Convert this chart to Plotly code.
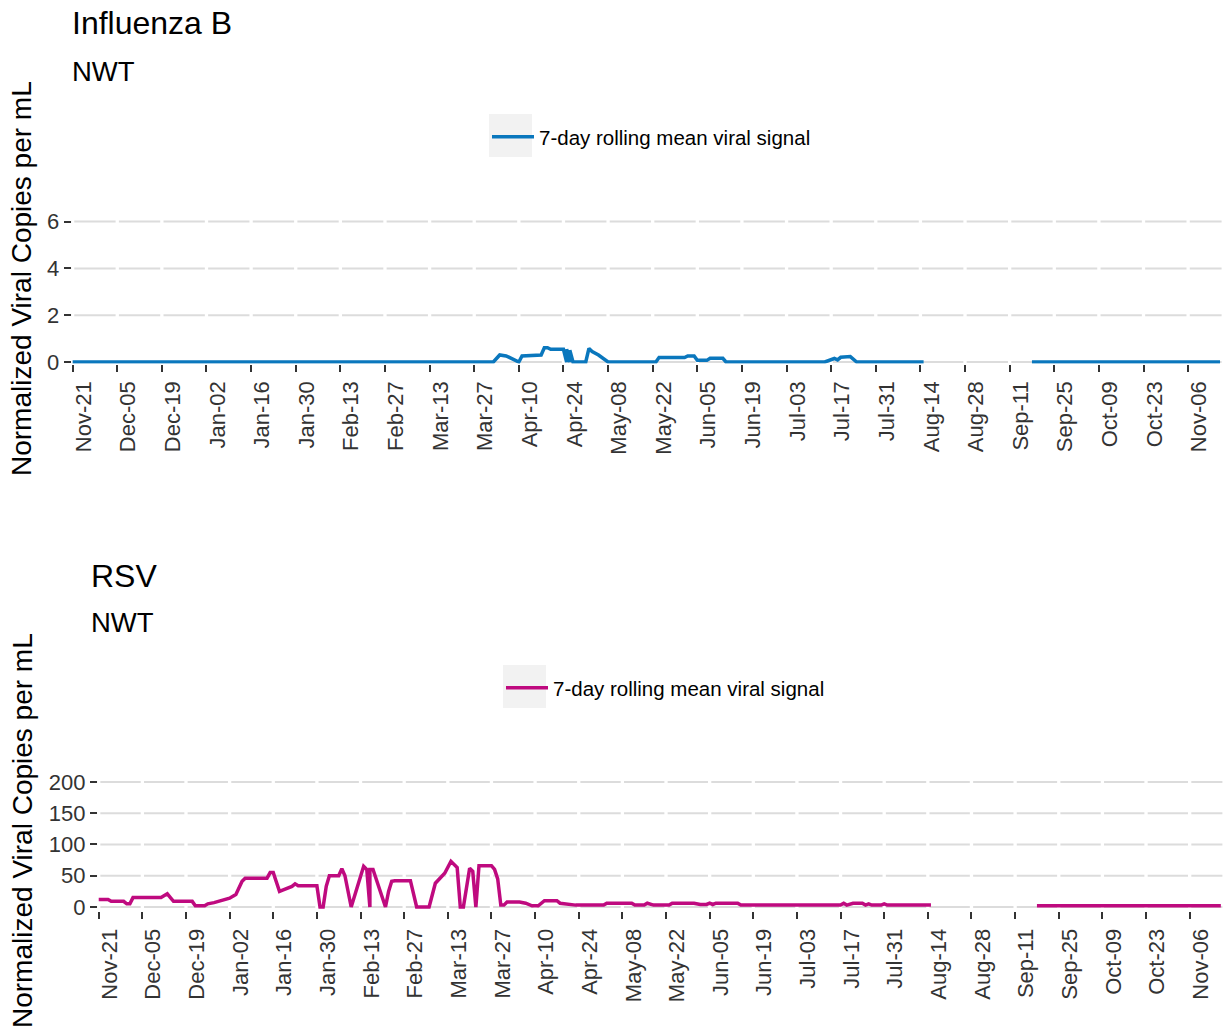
import pandas as pd
import plotly.graph_objects as go

# ---------------- data ----------------
flu_dates = [
    "2022-11-21", "2023-04-02", "2023-04-04", "2023-04-06", "2023-04-07", "2023-04-09",
    "2023-04-10", "2023-04-11", "2023-04-17", "2023-04-18", "2023-04-19", "2023-04-20",
    "2023-04-24", "2023-04-25", "2023-04-25", "2023-04-26", "2023-04-26", "2023-04-27",
    "2023-05-01", "2023-05-02", "2023-05-03", "2023-05-05", "2023-05-06", "2023-05-07",
    "2023-05-08", "2023-05-23", "2023-05-24", "2023-06-01", "2023-06-02", "2023-06-04",
    "2023-06-05", "2023-06-08", "2023-06-09", "2023-06-13", "2023-06-14", "2023-07-15",
    "2023-07-17", "2023-07-18", "2023-07-19", "2023-07-20", "2023-07-23", "2023-07-24",
    "2023-07-25", "2023-08-15", "2023-08-16", "2023-09-18", "2023-11-16",
]
flu_values = [
    0, 0, 0.30, 0.26, 0.20, 0.04,
    0, 0.26, 0.30, 0.61, 0.61, 0.54,
    0.54, 0, 0.55, 0, 0.50, 0,
    0, 0.58, 0.45, 0.30, 0.20, 0.12,
    0, 0, 0.19, 0.19, 0.26, 0.26,
    0.07, 0.07, 0.16, 0.16, 0, 0,
    0.11, 0.15, 0.09, 0.20, 0.23, 0.10,
    0, 0, None, 0, 0,
]

rsv_dates = [
    "2022-11-21", "2022-11-24", "2022-11-25", "2022-11-29", "2022-11-30", "2022-12-01",
    "2022-12-02", "2022-12-11", "2022-12-13", "2022-12-15", "2022-12-21", "2022-12-22",
    "2022-12-25", "2022-12-26", "2022-12-28", "2022-12-31", "2023-01-02", "2023-01-04",
    "2023-01-05", "2023-01-06", "2023-01-07", "2023-01-14", "2023-01-15", "2023-01-16",
    "2023-01-17", "2023-01-18", "2023-01-19", "2023-01-22", "2023-01-23", "2023-01-24",
    "2023-01-30", "2023-01-31", "2023-02-01", "2023-02-02", "2023-02-03", "2023-02-06",
    "2023-02-07", "2023-02-08", "2023-02-10", "2023-02-14", "2023-02-15", "2023-02-16",
    "2023-02-16", "2023-02-17", "2023-02-21", "2023-02-22", "2023-02-23", "2023-02-24",
    "2023-03-01", "2023-03-03", "2023-03-07", "2023-03-09", "2023-03-12", "2023-03-14",
    "2023-03-16", "2023-03-17", "2023-03-18", "2023-03-20", "2023-03-21", "2023-03-22",
    "2023-03-23", "2023-03-27", "2023-03-28", "2023-03-29", "2023-03-30", "2023-03-31",
    "2023-04-01", "2023-04-05", "2023-04-07", "2023-04-09", "2023-04-11", "2023-04-13",
    "2023-04-17", "2023-04-18", "2023-04-23", "2023-05-02", "2023-05-03", "2023-05-11",
    "2023-05-12", "2023-05-15", "2023-05-16", "2023-05-18", "2023-05-23", "2023-05-24",
    "2023-05-31", "2023-06-02", "2023-06-04", "2023-06-05", "2023-06-06", "2023-06-07",
    "2023-06-14", "2023-06-15", "2023-07-17", "2023-07-18", "2023-07-19", "2023-07-21",
    "2023-07-24", "2023-07-25", "2023-07-26", "2023-07-27", "2023-07-30", "2023-07-31",
    "2023-08-01", "2023-08-15", "2023-08-16", "2023-09-18", "2023-11-16",
]
rsv_values = [
    12, 12, 9, 9, 5, 5,
    15, 15, 21, 9, 9, 2,
    2, 5, 7, 11, 14, 20,
    30, 41, 46, 46, 55, 55,
    40, 25, 27, 33, 37, 34,
    34, 0, 0, 33, 50, 50,
    61, 50, 0, 65, 60, 0,
    60, 60, 0, 25, 41, 42,
    42, 0, 0, 38, 54, 73,
    63, 0, 0, 62, 57, 0,
    66, 66, 60, 45, 3, 3,
    8, 8, 6, 2, 2, 10,
    10, 6, 3, 3, 6, 6,
    3, 3, 6, 3, 3, 6,
    6, 4, 4, 6, 4, 6,
    6, 3, 3, 6, 3, 6,
    6, 3, 5, 3, 3, 5,
    3, 3, None, 2, 2,
]

tick_dates = list(pd.date_range("2022-11-21", periods=26, freq="14D"))
tick_labels = [d.strftime("%b-%d") for d in tick_dates]

flu_yticks = [0, 2, 4, 6]
rsv_yticks = [0, 50, 100, 150, 200]

series_name = "7-day rolling mean viral signal"

# ---------------- styling / layout ----------------
W, H = 1225, 1031
FONT = "Liberation Sans, Arial, sans-serif"
BLUE = "#0A77BD"
MAGENTA = "#BF0A7F"
GRID = "#DCDCDC"
TICKCOL = "#333333"
LABELCOL = "#333333"


def fx(p):
    return p / W


def fy(p):
    return 1 - p / H


start = pd.Timestamp("2022-11-21")
x_range = [start - pd.Timedelta(hours=7), start + pd.Timedelta(days=360, hours=12)]

fig = go.Figure()
fig.add_trace(go.Scatter(
    x=flu_dates, y=flu_values, mode="lines", name=series_name,
    line=dict(color=BLUE, width=3.5), connectgaps=False,
    xaxis="x", yaxis="y", legend="legend",
))
fig.add_trace(go.Scatter(
    x=rsv_dates, y=rsv_values, mode="lines", name=series_name,
    line=dict(color=MAGENTA, width=3.5), connectgaps=False,
    xaxis="x2", yaxis="y2", legend="legend2",
))

xcommon = dict(
    type="date", range=x_range, tickmode="array", tickvals=tick_dates, ticktext=tick_labels,
    tickangle=-90, ticks="outside", ticklen=7, tickwidth=1.5, tickcolor=TICKCOL,
    showgrid=False, zeroline=False, showline=False, automargin=False, fixedrange=True,
    tickfont=dict(family=FONT, size=22, color=LABELCOL), ticklabelshift=11, ticklabelstandoff=1,
)
ycommon = dict(
    tickmode="array", ticks="outside", ticklen=7, tickwidth=1.5, tickcolor=TICKCOL,
    showgrid=False, zeroline=False, showline=False,
    automargin=False, fixedrange=True,
    tickfont=dict(family=FONT, size=22, color=LABELCOL), ticklabelstandoff=0,
)

fig.update_layout(
    width=W, height=H,
    margin=dict(l=0, r=0, t=0, b=0, pad=0),
    paper_bgcolor="white", plot_bgcolor="white",
    font=dict(family=FONT, color="black"),
    xaxis=dict(xcommon, domain=[fx(71.7), fx(1221.6)], anchor="y"),
    yaxis=dict(ycommon, domain=[fy(363.5), fy(194)], range=[-0.064, 7.18],
               tickvals=flu_yticks, anchor="x"),
    xaxis2=dict(xcommon, domain=[fx(97.8), min(1.0, fx(1222.4))], anchor="y2"),
    yaxis2=dict(ycommon, domain=[fy(911), fy(760)], range=[-6.4, 235],
                tickvals=rsv_yticks, anchor="x2"),
    showlegend=True,
    legend=dict(x=fx(487), y=fy(137), xanchor="left", yanchor="middle",
                bgcolor="rgba(0,0,0,0)", font=dict(family=FONT, size=20.5, color="black"),
                itemwidth=42),
    legend2=dict(x=fx(501), y=fy(688), xanchor="left", yanchor="middle",
                 bgcolor="rgba(0,0,0,0)", font=dict(family=FONT, size=20.5, color="black"),
                 itemwidth=42),
)

shapes = []
# horizontal grid lines at the y ticks, broken by white gaps at each x tick
for xa, ya, yt in (("x", "y", flu_yticks), ("x2", "y2", rsv_yticks)):
    for v in yt:
        shapes.append(dict(type="line", xref=xa + " domain", yref=ya, x0=0, x1=1, y0=v, y1=v,
                           line=dict(color=GRID, width=2), layer="below"))
    for d in tick_dates:
        shapes.append(dict(type="line", xref=xa, yref=ya + " domain", x0=d, x1=d, y0=0, y1=1,
                           line=dict(color="white", width=3.3), layer="below"))
# grey legend key backgrounds
shapes.append(dict(type="rect", xref="paper", yref="paper", x0=fx(489), x1=fx(532),
                   y0=fy(157), y1=fy(114), fillcolor="#F2F2F2", line=dict(width=0), layer="below"))
shapes.append(dict(type="rect", xref="paper", yref="paper", x0=fx(503), x1=fx(546),
                   y0=fy(708), y1=fy(665), fillcolor="#F2F2F2", line=dict(width=0), layer="below"))
fig.update_layout(shapes=shapes)

ann = []
ann.append(dict(text="Influenza B", x=fx(70), y=fy(23), xref="paper", yref="paper",
                xanchor="left", yanchor="middle", showarrow=False,
                font=dict(family=FONT, size=32, color="black")))
ann.append(dict(text="NWT", x=fx(70), y=fy(71), xref="paper", yref="paper",
                xanchor="left", yanchor="middle", showarrow=False,
                font=dict(family=FONT, size=27.5, color="black")))
ann.append(dict(text="RSV", x=fx(89), y=fy(576), xref="paper", yref="paper",
                xanchor="left", yanchor="middle", showarrow=False,
                font=dict(family=FONT, size=32, color="black")))
ann.append(dict(text="NWT", x=fx(89), y=fy(622), xref="paper", yref="paper",
                xanchor="left", yanchor="middle", showarrow=False,
                font=dict(family=FONT, size=27.5, color="black")))
for cy in (279, 831):
    ann.append(dict(text="Normalized Viral Copies per mL", x=fx(22), y=fy(cy),
                    xref="paper", yref="paper", xanchor="center", yanchor="middle",
                    textangle=-90, showarrow=False,
                    font=dict(family=FONT, size=28, color="black")))
fig.update_layout(annotations=ann)

fig.write_html("out.html", config={"displayModeBar": False},
               post_script="document.body.style.margin='0px';")
